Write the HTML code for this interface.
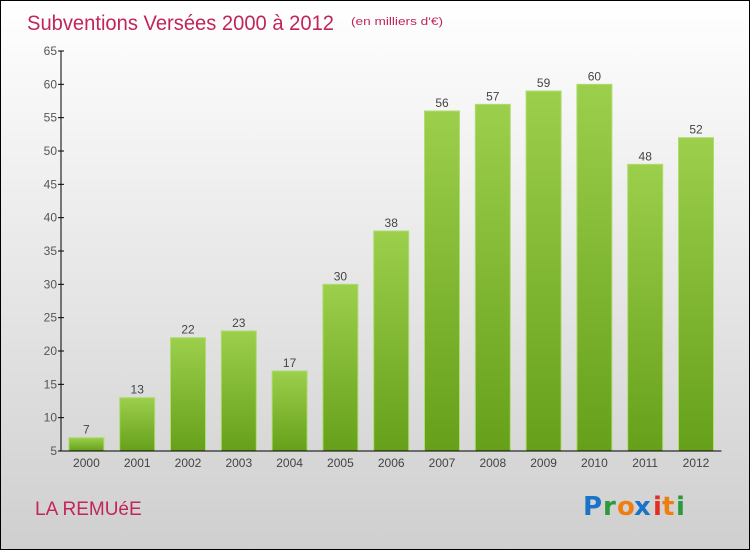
<!DOCTYPE html>
<html><head><meta charset="utf-8"><style>
body{margin:0}
#c{position:relative;width:748px;height:548px;border:1px solid #000;background:linear-gradient(#fff,#cfcfcf);font-family:"Liberation Sans",sans-serif;overflow:hidden}
</style></head><body>
<div id="c">
<svg id="s" width="748" height="548" style="position:absolute;left:0;top:0">
<defs><linearGradient id="g" x1="0" y1="0" x2="0" y2="1"><stop offset="0" stop-color="#9ccf4c"/><stop offset="1" stop-color="#66a01a"/></linearGradient></defs>
<text x="26" y="29" font-size="21" fill="#c2255c" textLength="307" lengthAdjust="spacingAndGlyphs">Subventions Versées 2000 à 2012</text>
<text x="350" y="24" font-size="11" fill="#c2255c" textLength="92" lengthAdjust="spacingAndGlyphs">(en milliers d'€)</text>
<text x="34" y="514" font-size="19" fill="#c2255c">LA REMUéE</text>
<g font-size="26" font-weight="bold" font-family="DejaVu Sans, sans-serif">
<text x="582" y="514" fill="#1a73c8">P</text><text x="602" y="514" fill="#2a9a3a">r</text><text x="616" y="514" fill="#f07d10">o</text><text x="633" y="514" fill="#1a73c8">x</text><text x="652" y="514" fill="#e03020">i</text><text x="661" y="514" fill="#f07d10">t</text><text x="675" y="514" fill="#2a9a3a">i</text>
</g>
</svg>
</div>
<script>
const years=["2000","2001","2002","2003","2004","2005","2006","2007","2008","2009","2010","2011","2012"];
const values=[7,13,22,23,17,30,38,56,57,59,60,48,52];
const yTicks=[5,10,15,20,25,30,35,40,45,50,55,60,65];
const NS="http://www.w3.org/2000/svg",s=document.getElementById('s');
const x0=60,step=50.8,ymin=5,ymax=65,yb=450,yt=50;
const y=v=>yb-(v-ymin)/(ymax-ymin)*(yb-yt);
const xc=i=>x0+step*(i+0.5);
function mk(t,a,txt){const e=document.createElementNS(NS,t);for(const k in a)e.setAttribute(k,a[k]);if(txt!=null)e.textContent=txt;s.appendChild(e);return e;}
values.forEach((v,i)=>{
 const r=mk('rect',{x:xc(i)-17.5,y:y(v),width:35,height:yb-y(v),fill:'url(#g)',stroke:'#b0dc70','stroke-width':1});
 
 
 const t=mk('text',{x:xc(i),y:y(v)-4,'text-anchor':'middle','font-size':12,fill:'#444'},v);
 
 
 const l=mk('text',{x:xc(i),y:yb+16,'text-anchor':'middle','font-size':12,fill:'#444'},years[i]);
 
 
});
yTicks.forEach(v=>{
 const tk=mk('line',{x1:x0-3,x2:x0+3,y1:y(v),y2:y(v),stroke:'#000'});
 
 
 const t=mk('text',{x:x0-4,y:y(v)+4,'text-anchor':'end','font-size':12,fill:'#555'},v);
 
 
});
const ya=mk('line',{x1:x0,x2:x0,y1:yt,y2:yb,stroke:'#000'});


const xa=mk('line',{x1:x0,x2:x0+step*13,y1:yb,y2:yb,stroke:'#000'});


</script>
</body></html>
